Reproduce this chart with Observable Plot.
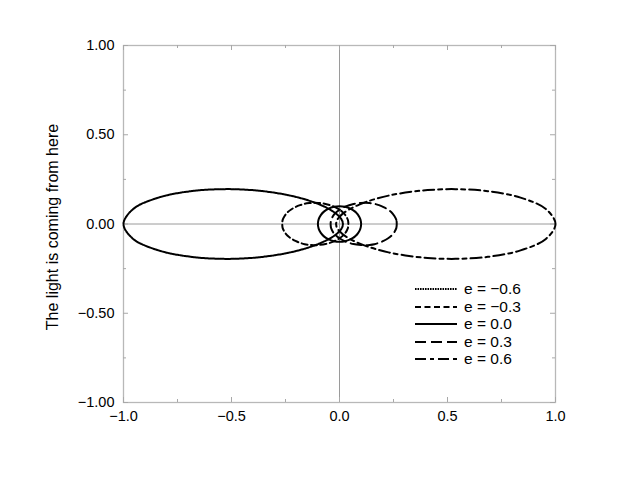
<!DOCTYPE html>
<html>
<head>
<meta charset="utf-8">
<script src="https://cdn.jsdelivr.net/npm/d3@7"></script>
<script src="https://cdn.jsdelivr.net/npm/@observablehq/plot@0.6"></script>
<style>
  body { margin: 0; background: #fff; }
  #wrap { position: relative; width: 640px; height: 480px; font-family: "Liberation Sans", Arial, Helvetica, sans-serif; }
  .leg { position: absolute; left: 415px; top: 280px; font-size: 15.5px; color: #000; }
  .row { position: absolute; left: 0; height: 18px; white-space: nowrap; }
  .row svg { position: absolute; left: 0; top: 4px; }
  .row span { position: absolute; left: 49px; top: 0; line-height: 18px; }
</style>
</head>
<body>
<div id="wrap"></div>
<script>
// Polar samples (angle in degrees, radius in plot units), upper half; curves are symmetric about y = 0
const angles = [0, 5, 10, 15, 20, 25, 30, 35, 40, 45, 50, 60, 75, 90, 105, 120, 135, 150, 165, 180];
const r06 = [1.000, 0.959, 0.851, 0.711, 0.571, 0.450, 0.352, 0.277, 0.219, 0.175, 0.142, 0.097, 0.060, 0.040, 0.030, 0.023, 0.020, 0.017, 0.016, 0.016];
const r03 = [0.265, 0.264, 0.258, 0.250, 0.238, 0.225, 0.211, 0.197, 0.182, 0.168, 0.154, 0.130, 0.101, 0.080, 0.066, 0.056, 0.049, 0.045, 0.042, 0.041];
const r00 = [0.100, 0.100, 0.100, 0.100, 0.100, 0.100, 0.100, 0.100, 0.100, 0.100, 0.100, 0.100, 0.100, 0.100, 0.100, 0.100, 0.100, 0.100, 0.100, 0.100];

const seriesNames = ["e = \u22120.6", "e = \u22120.3", "e = 0.0", "e = 0.3", "e = 0.6"];
const seriesRadii = [r06, r03, r00, r03, r06];
const seriesDirection = [-1, -1, 1, 1, 1]; // negative e: mirror image (lobe toward the light)
const seriesDash = ["1.6,0.9", "6,3.5", null, "11,5", "11,4,4,4"];

const xMajor = [-1, -0.5, 0, 0.5, 1];
const xMinor = [-0.75, -0.25, 0.25, 0.75];
const yMajor = [-1, -0.5, 0, 0.5, 1];
const yMinor = [-0.75, -0.25, 0.25, 0.75];
const yLabel = "The light is coming from here";

function loop(r, dir) {
  const pts = [];
  const n = angles.length;
  for (let i = 0; i < n; i++) {
    const t = angles[i] * Math.PI / 180;
    pts.push({x: dir * r[i] * Math.cos(t), y: r[i] * Math.sin(t)});
  }
  for (let i = n - 2; i >= 1; i--) {
    const t = angles[i] * Math.PI / 180;
    pts.push({x: dir * r[i] * Math.cos(t), y: -r[i] * Math.sin(t)});
  }
  return pts;
}

const W = 640, H = 480, mL = 123, mR = 85, mT = 45, mB = 78;
const pw = W - mL - mR, ph = H - mT - mB;
const tickColor = "#a8a8a8";

const lineMarks = seriesNames.map((name, i) =>
  Plot.line(loop(seriesRadii[i], seriesDirection[i]), {
    x: "x", y: "y", curve: "catmull-rom-closed",
    stroke: "#000", strokeWidth: 2,
    strokeDasharray: seriesDash[i] || undefined
  })
);

const chart = Plot.plot({
  width: W, height: H,
  marginLeft: mL, marginRight: mR, marginTop: mT, marginBottom: mB,
  style: {fontFamily: '"Liberation Sans", Arial, Helvetica, sans-serif', fontSize: "14.5px", color: "#000", background: "#fff"},
  x: {domain: [-1, 1]},
  y: {domain: [-1, 1]},
  marks: [
    Plot.ruleX([0], {stroke: "#9a9a9a", strokeWidth: 1}),
    Plot.ruleY([0], {stroke: "#9a9a9a", strokeWidth: 1}),
    Plot.frame({stroke: "#b8b8b8", strokeWidth: 1.3}),
    Plot.tickX(xMajor, {x: d => d, insetTop: ph - 5, stroke: tickColor}),
    Plot.tickX(xMajor, {x: d => d, insetBottom: ph - 5, stroke: tickColor}),
    Plot.tickX(xMinor, {x: d => d, insetTop: ph - 3, stroke: tickColor}),
    Plot.tickX(xMinor, {x: d => d, insetBottom: ph - 3, stroke: tickColor}),
    Plot.tickY(yMajor, {y: d => d, insetRight: pw - 5, stroke: tickColor}),
    Plot.tickY(yMajor, {y: d => d, insetLeft: pw - 5, stroke: tickColor}),
    Plot.tickY(yMinor, {y: d => d, insetRight: pw - 3, stroke: tickColor}),
    Plot.tickY(yMinor, {y: d => d, insetLeft: pw - 3, stroke: tickColor}),
    Plot.axisX({ticks: xMajor, tickSize: 0, tickPadding: 8, tickFormat: d3.format(".1f"), label: null}),
    Plot.axisY({ticks: yMajor, tickSize: 0, tickPadding: 9, tickFormat: d3.format(".2f"), label: null}),
    ...lineMarks,
    Plot.text([yLabel], {frameAnchor: "left", dx: -71, dy: 3, rotate: -90, textAnchor: "middle", text: d => d, fontSize: 16, fill: "#000"})
  ]
});

const wrap = document.getElementById("wrap");
wrap.appendChild(chart);

// Legend (inside the plot area, lower right)
const leg = document.createElement("div");
leg.className = "leg";
const rowTops = [0, 17.5, 35, 52.5, 70];
seriesNames.forEach((name, i) => {
  const row = document.createElement("div");
  row.className = "row";
  row.style.top = rowTops[i] + "px";
  const svg = document.createElementNS("http://www.w3.org/2000/svg", "svg");
  svg.setAttribute("width", "42");
  svg.setAttribute("height", "10");
  const ln = document.createElementNS("http://www.w3.org/2000/svg", "line");
  ln.setAttribute("x1", "0"); ln.setAttribute("x2", "42");
  ln.setAttribute("y1", "5"); ln.setAttribute("y2", "5");
  ln.setAttribute("stroke", "#000");
  ln.setAttribute("stroke-width", "2");
  if (seriesDash[i]) ln.setAttribute("stroke-dasharray", seriesDash[i]);
  svg.appendChild(ln);
  const sp = document.createElement("span");
  sp.textContent = name;
  row.appendChild(svg);
  row.appendChild(sp);
  leg.appendChild(row);
});
wrap.appendChild(leg);
</script>
</body>
</html>
